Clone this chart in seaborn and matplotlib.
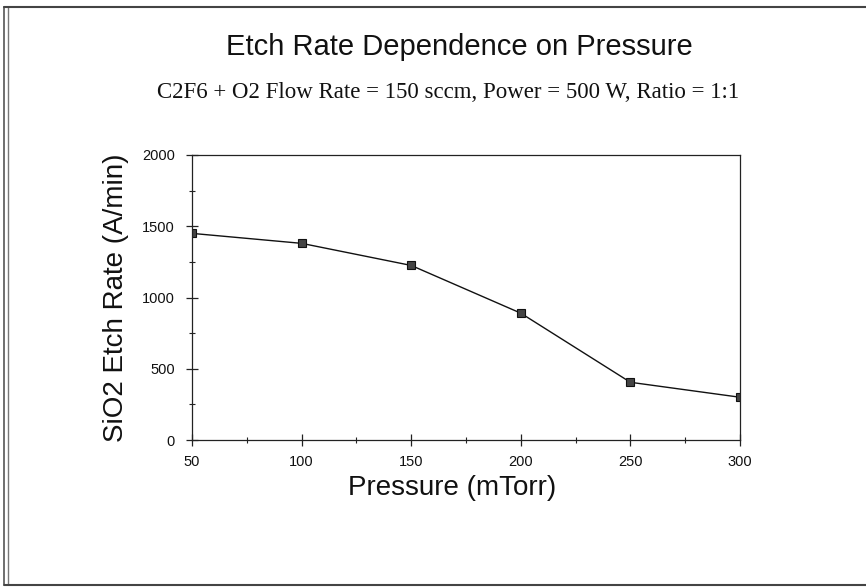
import matplotlib
matplotlib.use("Agg")
import matplotlib.pyplot as plt
import seaborn as sns
import pandas as pd
from matplotlib.lines import Line2D
from matplotlib.ticker import MultipleLocator

pressure = [50, 100, 150, 200, 250, 300]
etch_rate = [1450, 1380, 1225, 890, 405, 300]
title = "Etch Rate Dependence on Pressure"
subtitle = "C2F6 + O2 Flow Rate = 150 sccm, Power = 500 W, Ratio = 1:1"
xlabel = "Pressure (mTorr)"
ylabel = "SiO2 Etch Rate (A/min)"
xticks = [50, 100, 150, 200, 250, 300]
yticks = [0, 500, 1000, 1500, 2000]

sns.set_theme(style="white")
plt.rcParams['font.family'] = ['Liberation Sans', 'DejaVu Sans']

df = pd.DataFrame({"Pressure": pressure, "Etch": etch_rate})

W, H = 866, 587
fig = plt.figure(figsize=(W/100, H/100), dpi=100)
ax_l, ax_r, ax_t, ax_b = 192, 740, 155, 440
ax = fig.add_axes([ax_l/W, 1 - ax_b/H, (ax_r-ax_l)/W, (ax_b-ax_t)/H])

sns.lineplot(data=df, x="Pressure", y="Etch", ax=ax, color="#111111", linewidth=1.0,
             marker="s", markersize=6, markerfacecolor="#444444", markeredgecolor="#111111",
             markeredgewidth=0.8)

ax.set_xlim(50, 300)
ax.set_ylim(0, 2000)
ax.set_xticks(xticks)
ax.set_yticks(yticks)
ax.xaxis.set_minor_locator(MultipleLocator(25))
ax.yaxis.set_minor_locator(MultipleLocator(250))
ax.tick_params(which="major", direction="inout", length=9, width=0.9, color="#222222",
               labelsize=10.5, labelcolor="#111111", bottom=True, left=True)
ax.tick_params(which="minor", direction="inout", length=5, width=0.8, color="#222222",
               bottom=True, left=True)
ax.tick_params(axis="x", which="major", pad=6)
ax.tick_params(axis="y", which="major", pad=8)
for s in ax.spines.values():
    s.set_color("#222222")
    s.set_linewidth(0.9)
    s.set_visible(True)

ax.set_xlabel(xlabel, fontsize=20, color="#111111")
ax.xaxis.label.set_va("center")
ax.xaxis.set_label_coords((452-ax_l)/(ax_r-ax_l), (ax_b-488)/(ax_b-ax_t))
ax.set_ylabel(ylabel, fontsize=20, color="#111111")
ax.yaxis.label.set_va("center")
ax.yaxis.set_label_coords((116-ax_l)/(ax_r-ax_l), 0.5)

fig.text(459/W, 1 - 47/H, title, ha="center", va="center", fontsize=21, color="#111111")
fig.text(448/W, 1 - 92/H, subtitle, ha="center", va="center", fontsize=16.5,
         family=["Liberation Serif", "DejaVu Serif"], color="#111111")

# outer frame (left, top, bottom)
fig.add_artist(Line2D([4/W, 4/W], [0.005, 1 - 7/H], transform=fig.transFigure, color="#555555", lw=1.2))
fig.add_artist(Line2D([8/W, 8/W], [0.005, 1 - 7/H], transform=fig.transFigure, color="#777777", lw=1.0))
fig.add_artist(Line2D([4/W, 1.0], [1 - 7/H, 1 - 7/H], transform=fig.transFigure, color="#444444", lw=1.5))
fig.add_artist(Line2D([4/W, 1.0], [1 - 585/H, 1 - 585/H], transform=fig.transFigure, color="#444444", lw=1.5))

fig.savefig("out.png", dpi=100)
